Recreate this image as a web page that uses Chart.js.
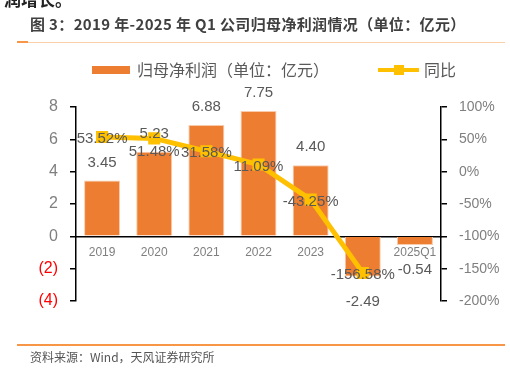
<!DOCTYPE html>
<html>
<head>
<meta charset="utf-8">
<script src="https://cdn.jsdelivr.net/npm/chart.js@4.4.0/dist/chart.umd.min.js"></script>
<style>
  html, body { margin: 0; padding: 0; background: #fff; }
  #wrap { position: relative; width: 510px; height: 383px; overflow: hidden; background: #fff; }
  #c { position: absolute; left: 0; top: 0; }
  .top { position: absolute; left: 4px; top: -14px; font: bold 17px "Noto Sans CJK SC", sans-serif; color: #222; }
  .title { position: absolute; left: 30px; top: 13px; font: bold 15px "Noto Sans CJK SC", sans-serif; color: #404040; white-space: nowrap; letter-spacing: 0.35px; }
  .tline { position: absolute; left: 17px; top: 42px; width: 488px; height: 1px; background: #FBD0A6; }
  .tline2 { position: absolute; left: 17px; top: 41px; width: 11px; height: 2px; background: #F79646; }
  .bline { position: absolute; left: 17px; top: 344px; width: 488px; height: 2px; background: #F79646; }
  .src { position: absolute; left: 30px; top: 348px; font: 12px "Noto Sans CJK SC", sans-serif; color: #555; white-space: nowrap; }
</style>
</head>
<body>
<div id="wrap">
  <canvas id="c" width="510" height="383"></canvas>
  <div class="top">润增长。</div>
  <div class="title">图 3：2019 年-2025 年 Q1 公司归母净利润情况（单位：亿元）</div>
  <div class="tline"></div>
  <div class="tline2"></div>
  <div class="bline"></div>
  <div class="src">资料来源：Wind，天风证券研究所</div>
</div>
<script>
const categories = ['2019', '2020', '2021', '2022', '2023', '2024', '2025Q1'];
const profitValues = [3.45, 5.23, 6.88, 7.75, 4.40, -2.49, -0.54];
const yoyValues = [53.52, 51.48, 31.58, 11.09, -43.25, -156.58, null];
const leftTicks = [-4, -2, 0, 2, 4, 6, 8];
const rightTicks = [-200, -150, -100, -50, 0, 50, 100];
const seriesNames = ['归母净利润（单位：亿元）', '同比'];

const BAR = '#ED7D31';
const LINE = '#FFC000';
const LABEL = '#595959';
const FONT = '"Liberation Sans", "Noto Sans CJK SC", sans-serif';

const labelPlugin = {
  id: 'labels',
  afterDatasetsDraw(chart) {
    const ctx = chart.ctx;
    ctx.save();
    ctx.textAlign = 'center';
    ctx.textBaseline = 'middle';
    ctx.fillStyle = LABEL;
    ctx.font = '15px ' + FONT;
    const barMeta = chart.getDatasetMeta(0);
    barMeta.data.forEach((el, i) => {
      const v = profitValues[i];
      const y = v >= 0 ? el.y - 18 : el.y + 25;
      ctx.fillText(v.toFixed(2), el.x, y);
    });
    const lineMeta = chart.getDatasetMeta(1);
    lineMeta.data.forEach((el, i) => {
      const v = yoyValues[i];
      if (v === null || v === undefined) return;
      const dy = i === 1 ? 13 : 2;
      ctx.fillText(v.toFixed(2) + '%', el.x, el.y + dy);
    });
    ctx.restore();
  },
  afterDraw(chart) {
    const ctx = chart.ctx;
    ctx.save();
    ctx.fillStyle = BAR;
    ctx.fillRect(92, 66, 38, 8);
    ctx.fillStyle = LABEL;
    ctx.font = '16px "Noto Sans CJK SC", sans-serif';
    ctx.textBaseline = 'middle';
    ctx.textAlign = 'left';
    ctx.fillText(seriesNames[0], 137, 70);
    ctx.strokeStyle = LINE;
    ctx.lineWidth = 4;
    ctx.beginPath();
    ctx.moveTo(378, 70);
    ctx.lineTo(419, 70);
    ctx.stroke();
    ctx.fillStyle = LINE;
    ctx.fillRect(394, 65, 10, 10);
    ctx.fillStyle = LABEL;
    ctx.fillText(seriesNames[1], 424, 70);
    ctx.restore();
  }
};

new Chart(document.getElementById('c'), {
  data: {
    labels: categories,
    datasets: [
      {
        type: 'bar',
        label: seriesNames[0],
        data: profitValues,
        yAxisID: 'y',
        backgroundColor: BAR,
        borderColor: '#F8CBAD',
        borderWidth: 1,
        barPercentage: 0.69,
        categoryPercentage: 1,
        order: 2
      },
      {
        type: 'line',
        label: seriesNames[1],
        data: yoyValues,
        yAxisID: 'y1',
        borderColor: LINE,
        backgroundColor: LINE,
        borderWidth: 5,
        pointStyle: 'rect',
        pointRadius: 5,
        pointBackgroundColor: LINE,
        pointBorderColor: LINE,
        tension: 0,
        order: 1
      }
    ]
  },
  options: {
    responsive: false,
    animation: false,
    layout: { padding: { top: 107, bottom: 82, left: 0, right: 0 } },
    plugins: { legend: { display: false }, tooltip: { enabled: false }, title: { display: false } },
    scales: {
      x: {
        position: { y: 0 },
        grid: { drawOnChartArea: false, drawTicks: false },
        border: { display: true, color: '#000', width: 1.5 },
        ticks: { color: '#7F7F7F', font: { size: 12, family: FONT }, padding: 9, maxRotation: 0, autoSkip: false }
      },
      y: {
        position: 'left',
        min: -4, max: 8,
        afterBuildTicks(scale) { scale.ticks = leftTicks.map(v => ({ value: v })); },
        afterFit(scale) { scale.width = 76; },
        grid: { drawOnChartArea: false, drawTicks: true, tickLength: 6, color: '#000', lineWidth: 1.5 },
        border: { display: true, color: '#000', width: 1.5 },
        ticks: {
          color: c => (c.tick && c.tick.value < 0) ? '#FF0000' : '#7F7F7F',
          font: { size: 16, family: FONT },
          padding: 12,
          callback: v => v < 0 ? '(' + Math.abs(v) + ')' : String(v)
        }
      },
      y1: {
        position: 'right',
        min: -200, max: 100,
        afterBuildTicks(scale) { scale.ticks = rightTicks.map(v => ({ value: v })); },
        afterFit(scale) { scale.width = 69; },
        grid: { drawOnChartArea: false, drawTicks: true, tickLength: 6, color: '#000', lineWidth: 1.5 },
        border: { display: true, color: '#000', width: 1.5 },
        ticks: { color: '#7F7F7F', font: { size: 14, family: FONT }, padding: 12, callback: v => v + '%' }
      }
    }
  },
  plugins: [labelPlugin]
});
</script>
</body>
</html>
